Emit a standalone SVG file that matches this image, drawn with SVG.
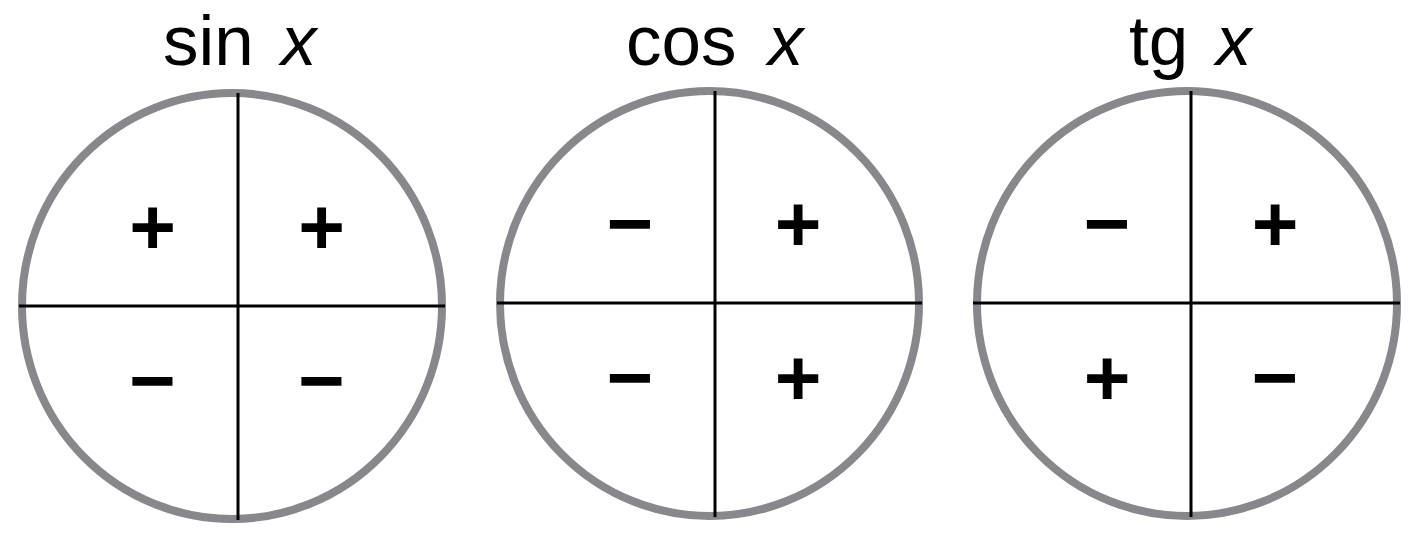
<svg xmlns="http://www.w3.org/2000/svg" width="1414" height="540" viewBox="0 0 1414 540">
<style>
  .ring { fill: none; stroke: #87878c; stroke-width: 8; }
  .axis { stroke: #000; stroke-width: 3; fill: none; }
  .title { font-family: "Liberation Sans", Arial, sans-serif; font-size: 71px; fill: #000; }
  .var { font-style: italic; }
  .sign { font-family: "Liberation Sans", Arial, sans-serif; font-weight: bold; font-size: 80px; fill: #000; text-anchor: middle; }
</style>
<rect width="1414" height="540" fill="#fff"/>
<g id="sin">
  <text class="title" x="163" y="65">sin</text>
  <text class="title var" x="281" y="65">x</text>
  <ellipse class="ring" cx="232" cy="306" rx="210" ry="213"/>
  <g class="axes">
    <line class="axis" x1="238" y1="93" x2="238" y2="520"/>
    <line class="axis" x1="19" y1="306" x2="445" y2="306"/>
  </g>
  <text class="sign" x="152.5" y="254">+</text>
  <text class="sign" x="321.5" y="254">+</text>
  <text class="sign" x="152.5" y="408">−</text>
  <text class="sign" x="321.5" y="408">−</text>
</g>
<g id="cos">
  <text class="title" x="626" y="64.5">cos</text>
  <text class="title var" x="768" y="64.5">x</text>
  <ellipse class="ring" cx="709.5" cy="303.5" rx="209.5" ry="212.5"/>
  <g class="axes">
    <line class="axis" x1="715" y1="91" x2="715" y2="517"/>
    <line class="axis" x1="497" y1="303" x2="922" y2="303"/>
  </g>
  <text class="sign" x="630" y="251">−</text>
  <text class="sign" x="798" y="251">+</text>
  <text class="sign" x="630" y="405">−</text>
  <text class="sign" x="798" y="405">+</text>
</g>
<g id="tg">
  <text class="title" x="1129" y="64.5">tg</text>
  <text class="title var" x="1216" y="64.5">x</text>
  <ellipse class="ring" cx="1187" cy="303.5" rx="210" ry="212.5"/>
  <g class="axes">
    <line class="axis" x1="1191" y1="91" x2="1191" y2="517"/>
    <line class="axis" x1="973" y1="303" x2="1400" y2="303"/>
  </g>
  <text class="sign" x="1107" y="251">−</text>
  <text class="sign" x="1275" y="251">+</text>
  <text class="sign" x="1107" y="405">+</text>
  <text class="sign" x="1275" y="405">−</text>
</g>
</svg>
